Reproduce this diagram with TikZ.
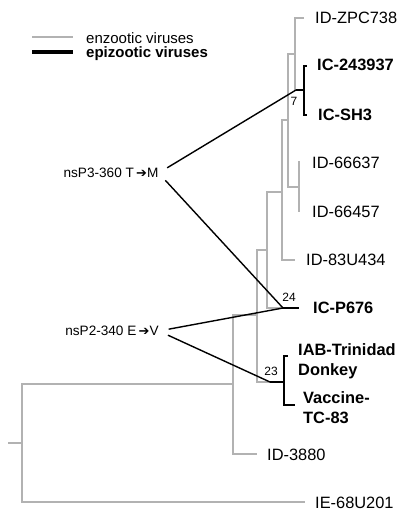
\documentclass[tikz,border=0pt]{standalone}
\usepackage{fontspec}
\setmainfont{Liberation Sans}
\newfontfamily\symfont{DejaVu Sans}
\definecolor{enzgray}{RGB}{178,178,178}
\begin{document}
\begin{tikzpicture}[x=1pt,y=-1pt,
  enz/.style={draw=enzgray,line width=2.6pt},
  epi/.style={draw=black,line width=2.8pt},
  mut/.style={draw=black,line width=1.4pt,shorten <=10pt},
  taxon/.style={anchor=west,inner sep=0pt,font=\fontsize{16.4}{18}\selectfont},
  taxonb/.style={anchor=west,inner sep=0pt,font=\fontsize{16.4}{18}\selectfont\bfseries},
  boot/.style={inner sep=0pt,font=\fontsize{12}{13}\selectfont},
  mutlbl/.style={inner sep=0pt,font=\fontsize{13.6}{15}\selectfont},
  legtxt/.style={anchor=west,inner sep=0pt,font=\fontsize{15}{17}\selectfont}]
\useasboundingbox (0,0) rectangle (411,519);
% ---- tree coordinates
\coordinate (R0) at (8,443);
\coordinate (R) at (22,443);
\coordinate (tIE) at (305,502);
\coordinate (N1) at (233,384);
\coordinate (t3880) at (257,454);
\coordinate (N2) at (257,315);
\coordinate (N3) at (267,250);
\coordinate (N4) at (282,192);
\coordinate (N5) at (288,120);
\coordinate (N6) at (295,54);
\coordinate (tZPC) at (304,18);
\coordinate (Nicj) at (296,90);
\coordinate (Nic) at (304,90);
\coordinate (tIC1) at (307,66);
\coordinate (tIC2) at (307,115);
\coordinate (N7) at (299,187);
\coordinate (t66637) at (300,162);
\coordinate (t66457) at (300,211);
\coordinate (t83U) at (295,260);
\coordinate (nP676) at (283,308);
\coordinate (tP676) at (299,308);
\coordinate (nIABj) at (270,382);
\coordinate (NIAB) at (284,382);
\coordinate (tIAB) at (288,356);
\coordinate (tVac) at (295,405);
% ---- enzootic (gray) branches
\draw[enz] (R0) -- (R);
\draw[enz] (R) |- (N1);
\draw[enz] (R) |- (tIE);
\draw[enz] (N1) |- (t3880);
\draw[enz] (N1) |- (N2);
\draw[enz] (N2) |- (N3);
\draw[enz] (N2) |- (nIABj);
\draw[enz] (N3) |- (N4);
\draw[enz] (N3) |- (nP676);
\draw[enz] (N4) |- (N5);
\draw[enz] (N4) |- (t83U);
\draw[enz] (N5) |- (N6);
\draw[enz] (N5) |- (N7);
\draw[enz] (N6) |- (tZPC);
\draw[enz] (N6) |- (Nicj);
\draw[enz] (N7) |- (t66637);
\draw[enz] (N7) |- (t66457);
% ---- epizootic (black) branches
\draw[epi] (Nicj) -- (Nic);
\draw[epi] (Nic) |- (tIC1);
\draw[epi] (Nic) |- (tIC2);
\draw[epi] (nP676) -- (tP676);
\draw[epi] (nIABj) -- (NIAB);
\draw[epi] (NIAB) |- (tIAB);
\draw[epi] (NIAB) |- (tVac);
% ---- taxon labels
\node[taxon] (lZPC) at (315,18) {ID-ZPC738};
\node[taxonb] (lIC1) at (317,65) {IC-243937};
\node[taxonb] (lIC2) at (318,115) {IC-SH3};
\node[taxon] (l66637) at (312,163) {ID-66637};
\node[taxon] (l66457) at (312,212) {ID-66457};
\node[taxon] (l83U) at (306,260) {ID-83U434};
\node[taxonb] (lP676) at (313,308) {IC-P676};
\node[taxonb] (lIAB) at (298,350) {IAB-Trinidad};
\node[taxonb] (lDon) at (298,371) {Donkey};
\node[taxonb] (lVac) at (303,398) {Vaccine-};
\node[taxonb] (lTC) at (303,418) {TC-83};
\node[taxon] (l3880) at (267,455) {ID-3880};
\node[taxon] (lIE) at (315,503) {IE-68U201};
% ---- numbers at clades
\node[boot] (b7) at (294,101) {7};
\node[boot] (b24) at (289,297) {24};
\node[boot] (b23) at (271,371) {23};
% ---- mutation labels and connectors
\node[mutlbl] (m3) at (111,173) {nsP3-360 T\,{\symfont\fontsize{13}{14}\selectfont ➔}M};
\node[mutlbl] (m2) at (112,331) {nsP2-340 E\,{\symfont\fontsize{13}{14}\selectfont ➔}V};
\draw[mut] (m3.east) -- (Nicj);
\draw[mut] (m3.east) -- (nP676);
\draw[mut] (m2.east) -- (nP676);
\draw[mut] (m2.east) -- (nIABj);
% ---- legend
\coordinate (lg1a) at (32,37);
\coordinate (lg1b) at (73,37);
\coordinate (lg2a) at (32,52);
\coordinate (lg2b) at (73,52);
\draw[draw=enzgray,line width=2pt] (lg1a) -- (lg1b);
\draw[draw=black,line width=4pt] (lg2a) -- (lg2b);
\node[legtxt] (leg1) at (86,38) {enzootic viruses};
\node[legtxt,font=\fontsize{15}{17}\selectfont\bfseries] (leg2) at (86,54) {epizootic viruses};
\end{tikzpicture}
\end{document}
